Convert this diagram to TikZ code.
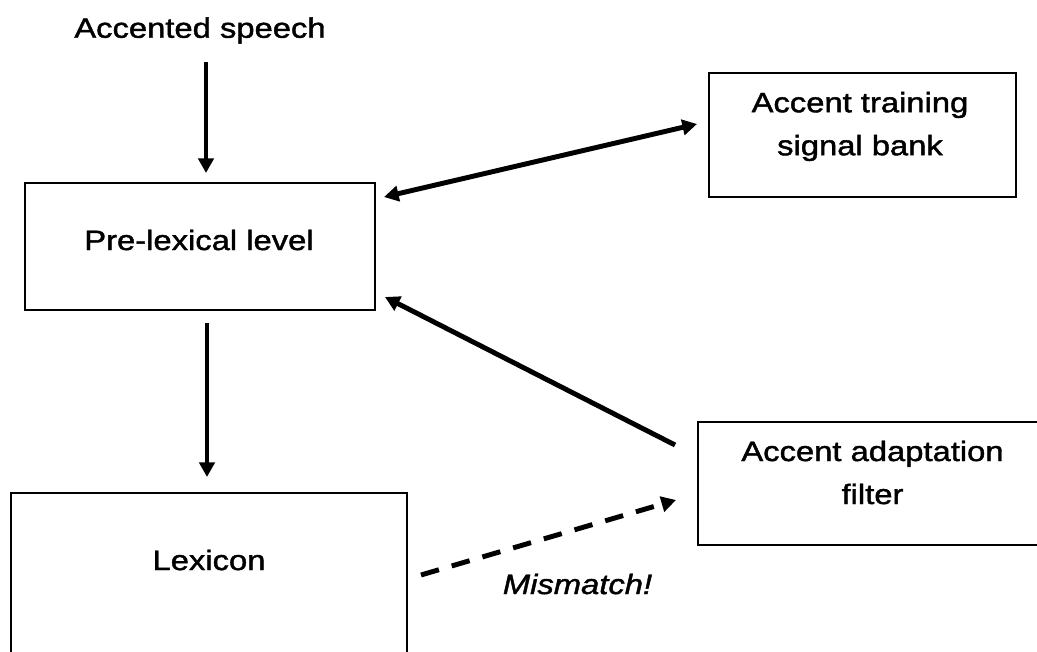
\documentclass[tikz,border=0pt]{standalone}
\usepackage{fontspec}
\newfontfamily\diagfont{Liberation Sans}[FakeStretch=1.17,FakeBold=1.5]
\usetikzlibrary{arrows.meta}
\begin{document}
\begin{tikzpicture}[x=0.75pt,y=-0.75pt,
  box/.style={draw,line width=2pt,inner sep=0pt,outer sep=0pt},
  txt/.style={inner sep=0pt,outer sep=0pt,font=\diagfont\fontsize{21pt}{32.25pt}\selectfont,align=center},
  mis/.style={txt,font=\diagfont\itshape\fontsize{21pt}{32.25pt}\selectfont},
  arr/.style={line width=3.7pt,-{Triangle[length=11pt,width=11.5pt]}},
  dblarr/.style={line width=3.7pt,{Triangle[length=11pt,width=11.5pt]}-{Triangle[length=11pt,width=11.5pt]}},
  dasharr/.style={arr,dash pattern=on 14pt off 10pt}
]
\useasboundingbox (0,0) rectangle (1037,652);
\clip (0,0) rectangle (1037,652);
\fill[white] (0,0) rectangle (1037,652);

\node[box,minimum width=262.5pt,minimum height=95.25pt] (prelex) at (200,246.5) {};
\node[txt] (prelextext) at (199,240) {Pre-lexical level};
\node[box,minimum width=297pt,minimum height=155.25pt] (lexicon) at (209,596.5) {};
\node[txt] (lexicontext) at (209,560) {Lexicon};
\node[box,minimum width=230.25pt,minimum height=93pt] (training) at (862.5,135) {};
\node[txt] (trainingtext) at (860,126.5) {Accent training\\signal bank};
\node[box,minimum width=260.25pt,minimum height=92.25pt] (filter) at (871.5,483.5) {};
\node[txt] (filtertext) at (872.5,472.5) {Accent adaptation\\filter};
\node[txt] (speech) at (200,30.5) {Accented speech};
\node[mis] (mismatch) at (577.5,584) {Mismatch!};

\draw[arr,shorten <=13.7pt,shorten >=7.5pt] ([xshift=4.5pt]speech.south) -- ([xshift=4.5pt]speech.south |- prelex.north);
\draw[arr,shorten <=9.75pt,shorten >=12pt] ([xshift=5.25pt]prelex.south) -- ([xshift=5.25pt]prelex.south |- lexicon.north);
\draw[dblarr] ([xshift=6.75pt,yshift=-10.5pt]prelex.north east) -- ([xshift=-9pt,yshift=8.25pt]training.west);
\draw[arr] ([xshift=-17.25pt,yshift=-17.25pt]filter.north west) -- ([xshift=7.5pt,yshift=9.75pt]prelex.south east);
\draw[dasharr] ([xshift=10.5pt,yshift=-61.5pt]lexicon.north east) -- ([xshift=-16.5pt,yshift=-12.375pt]filter.west);
\end{tikzpicture}
\end{document}
